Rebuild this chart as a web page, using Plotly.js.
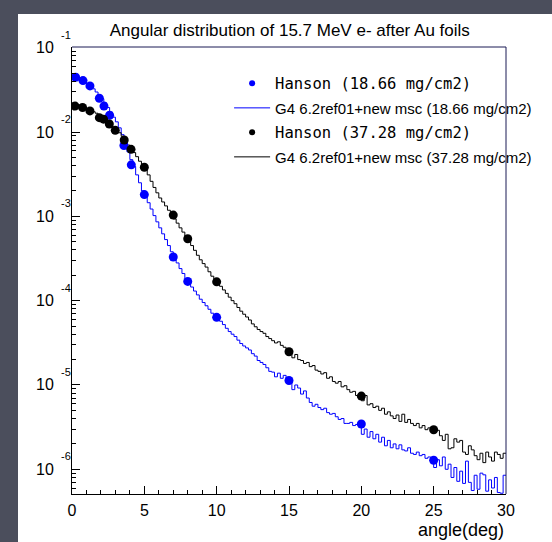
<!DOCTYPE html>
<html><head><meta charset="utf-8">
<script src="https://cdn.plot.ly/plotly-3.0.1.min.js"></script>
<style>
html,body{margin:0;padding:0;background:#4b4e5c;width:552px;height:542px;overflow:hidden}
#chart{position:absolute;left:18px;top:14px;width:534px;height:528px;}
</style></head><body><div id="chart"></div>
<script>
// ---- data ----
const titleText = "Angular distribution of 15.7 MeV e- after Au foils";
const xAxisLabel = "angle(deg)";
const nameHanson18 = "Hanson (18.66 mg/cm2)";
const nameG4_18 = "G4 6.2ref01+new msc (18.66 mg/cm2)";
const nameHanson37 = "Hanson (37.28 mg/cm2)";
const nameG4_37 = "G4 6.2ref01+new msc (37.28 mg/cm2)";

const xTickVals = [0, 5, 10, 15, 20, 25, 30];
const yDecadeExps = [-1, -2, -3, -4, -5, -6];

// Hanson measurements, 18.66 mg/cm2
const hanson18Angle = [0.25, 0.76, 1.24, 1.89, 2.21, 2.6, 3.59, 4.1, 5.0, 7.0, 8.0, 10.0, 15.0, 20.0, 25.0];
const hanson18Value = [0.0446, 0.0407, 0.0352, 0.0251, 0.0203, 0.0158, 0.00692, 0.00408, 0.00181, 3.29e-4, 1.69e-4, 6.34e-5, 1.13e-5, 3.44e-6, 1.28e-6];

// Hanson measurements, 37.28 mg/cm2
const hanson37Angle = [0.21, 0.73, 1.24, 1.89, 2.18, 2.58, 2.99, 3.61, 4.08, 5.0, 7.0, 8.0, 10.0, 15.0, 20.0, 25.0];
const hanson37Value = [0.0203, 0.0195, 0.0178, 0.0148, 0.0142, 0.01245, 0.01047, 0.00803, 0.00623, 0.00382, 1.035e-3, 5.42e-4, 1.67e-4, 2.48e-5, 7.38e-6, 2.94e-6];

// G4 histograms: 150 bins over 0..30 deg
const histMin = 0, histMax = 30;
const g4Thin = [
0.0458,0.0450,0.0438,0.0420,0.0398,
0.0375,0.0352,0.0325,0.0298,0.0272,
0.0248,0.0222,0.0195,0.0172,0.0150,
0.0132,0.0112,0.0093,0.0074,0.0058,
0.0047,0.0039,0.0031,0.0025,0.0020,
0.00172,0.00145,0.00122,0.00102,0.00086,
0.00073,0.00062,0.00053,0.00045,0.00038,
0.00033,0.00028,0.00024,0.00021,0.000182,
1.62e-4,1.45e-4,1.30e-4,1.17e-4,1.04e-4,
9.5e-5,8.7e-5,7.9e-5,7.1e-5,6.5e-5,
6.2e-5,5.7e-5,5.2e-5,4.7e-5,4.3e-5,
4.0e-5,3.75e-5,3.4e-5,3.1e-5,2.9e-5,
2.75e-5,2.6e-5,2.35e-5,2.2e-5,1.95e-5,
1.85e-5,1.75e-5,1.6e-5,1.45e-5,1.42e-5,
1.25e-5,1.38e-5,1.2e-5,1.3e-5,1.12e-5,
1.08e-5,8.8e-6,1.0e-5,9.2e-6,7.8e-6,
8.5e-6,7.0e-6,6.2e-6,5.6e-6,5.9e-6,
5.4e-6,5.1e-6,5.3e-6,4.7e-6,4.5e-6,
4.6e-6,4.2e-6,3.9e-6,4.0e-6,3.5e-6,
3.5e-6,3.6e-6,3.3e-6,3.4e-6,3.3e-6,
2.6e-6,3.0e-6,2.4e-6,2.8e-6,2.3e-6,
2.6e-6,2.1e-6,2.4e-6,1.9e-6,2.2e-6,
1.8e-6,2.0e-6,1.75e-6,1.95e-6,1.7e-6,
1.65e-6,1.8e-6,1.55e-6,1.5e-6,1.6e-6,
1.45e-6,1.5e-6,1.35e-6,1.4e-6,1.3e-6,
1.05e-6,1.3e-6,1.1e-6,1.4e-6,1.0e-6,
1.15e-6,8.0e-7,1.05e-6,7.2e-7,9.5e-7,
6.8e-7,1.25e-6,7.0e-7,5.6e-7,8.5e-7,
5.8e-7,9.0e-7,8.6e-7,5.5e-7,7.5e-7,
6.0e-7,8.0e-7,5.3e-7,5.2e-7,8.5e-7];
const g4Thick = [
0.0221,0.0215,0.0208,0.0203,0.0198,
0.0190,0.0182,0.0174,0.0167,0.0159,
0.0150,0.0141,0.0131,0.0121,0.0114,
0.0106,0.0098,0.0089,0.0080,0.0070,
0.0064,0.0057,0.0051,0.0045,0.0040,
0.0036,0.0031,0.0026,0.0022,0.0019,
0.00165,0.00148,0.00133,0.00118,0.00106,
0.00093,0.00083,0.00073,0.00065,0.00058,
5.1e-4,4.5e-4,3.95e-4,3.45e-4,3.05e-4,
2.75e-4,2.5e-4,2.2e-4,1.95e-4,1.78e-4,
1.62e-4,1.48e-4,1.34e-4,1.22e-4,1.1e-4,
1.0e-4,9.2e-5,8.3e-5,7.5e-5,6.9e-5,
6.4e-5,5.9e-5,5.3e-5,4.9e-5,4.55e-5,
4.3e-5,4.1e-5,3.75e-5,3.55e-5,3.35e-5,
3.15e-5,3.25e-5,2.95e-5,2.8e-5,2.6e-5,
2.45e-5,2.1e-5,2.3e-5,2.0e-5,1.95e-5,
1.8e-5,1.85e-5,1.65e-5,1.7e-5,1.5e-5,
1.45e-5,1.35e-5,1.4e-5,1.2e-5,1.25e-5,
1.1e-5,1.05e-5,1.1e-5,9.5e-6,9.8e-6,
8.8e-6,8.2e-6,8.4e-6,7.5e-6,7.4e-6,
6.5e-6,7.5e-6,5.8e-6,6.0e-6,5.4e-6,
5.6e-6,5.0e-6,5.3e-6,4.5e-6,4.8e-6,
4.3e-6,4.0e-6,4.4e-6,3.7e-6,4.5e-6,
3.6e-6,3.9e-6,3.5e-6,3.3e-6,3.5e-6,
3.1e-6,3.3e-6,2.95e-6,3.1e-6,2.9e-6,
2.75e-6,2.9e-6,2.5e-6,2.2e-6,2.6e-6,
1.75e-6,1.8e-6,2.3e-6,2.1e-6,2.2e-6,
1.6e-6,1.5e-6,1.9e-6,1.7e-6,1.45e-6,
1.3e-6,1.55e-6,1.2e-6,1.6e-6,1.4e-6,
1.25e-6,1.6e-6,1.5e-6,1.35e-6,1.55e-6];

// ---- build step outlines from the bin contents ----
function stepTrace(vals, color) {
  const n = vals.length, w = (histMax - histMin) / n;
  const xs = [], ys = [];
  for (let i = 0; i < n; i++) { xs.push(+(histMin + i * w).toFixed(4)); ys.push(vals[i]); }
  xs.push(histMax); ys.push(vals[n - 1]);
  return {x: xs, y: ys, type: 'scatter', mode: 'lines', line: {shape: 'hv', color: color, width: 1},
          showlegend: false, hoverinfo: 'skip'};
}

const BLUE = '#0000ff', BLACK = '#000000';
const mono = 'DejaVu Sans Mono';
function monoName(s){ return '<span style="font-family:' + mono + ';font-size:15.5px">' + s + '</span>'; }

const traces = [
  stepTrace(g4Thin, BLUE),
  stepTrace(g4Thick, BLACK),
  {x: hanson18Angle, y: hanson18Value, type: 'scatter', mode: 'markers', marker: {color: BLUE, size: 9}, showlegend: false},
  {x: hanson37Angle, y: hanson37Value, type: 'scatter', mode: 'markers', marker: {color: BLACK, size: 9}, showlegend: false},
  // legend entries
  {x: [null], y: [null], type: 'scatter', mode: 'markers', marker: {color: BLUE, size: 6}, name: monoName(nameHanson18), legendgroup: 'a'},
  {x: [null], y: [null], type: 'scatter', mode: 'lines', line: {color: BLUE, width: 1}, name: nameG4_18, legendgroup: 'b'},
  {x: [null], y: [null], type: 'scatter', mode: 'markers', marker: {color: BLACK, size: 6}, name: monoName(nameHanson37), legendgroup: 'c'},
  {x: [null], y: [null], type: 'scatter', mode: 'lines', line: {color: BLACK, width: 1}, name: nameG4_37, legendgroup: 'd'}
];

// minor log ticks
const minorVals = [];
for (const e of [-7, -6, -5, -4, -3, -2]) for (let m = 2; m <= 9; m++) minorVals.push(m * Math.pow(10, e));

const annotations = [];
for (const e of yDecadeExps) {
  annotations.push({xref: 'paper', x: 0, xanchor: 'right', xshift: -16, yref: 'y', y: e, yanchor: 'middle',
    text: '10', showarrow: false, font: {size: 16, color: '#000'}});
  annotations.push({xref: 'paper', x: 0, xanchor: 'right', xshift: 1, yref: 'y', y: e, yanchor: 'middle', yshift: 13,
    text: String(e), showarrow: false, font: {size: 11, color: '#000'}});
}
annotations.push({xref: 'paper', x: 1, xanchor: 'right', xshift: 0, yref: 'paper', y: 0, yanchor: 'middle', yshift: -36,
  text: xAxisLabel, showarrow: false, font: {size: 18, color: '#000'}});

const layout = {
  width: 534, height: 528,
  margin: {l: 54, r: 46, t: 33, b: 48},
  paper_bgcolor: '#ffffff', plot_bgcolor: '#ffffff',
  font: {family: 'Liberation Sans, Arial, sans-serif', color: '#000'},
  title: {text: titleText, font: {size: 17, color: '#000'}, xref: 'container', x: 0.509, xanchor: 'center',
          yref: 'container', y: 0.97, yanchor: 'middle'},
  xaxis: {range: [histMin, histMax], tickmode: 'array', tickvals: xTickVals, ticks: 'inside', ticklen: 8, tickwidth: 1,
          tickcolor: '#000', showline: true, linecolor: '#000', linewidth: 1, showgrid: false, zeroline: false,
          tickfont: {size: 16, color: '#000'}, ticklabelstandoff: 2,
          minor: {dtick: 1, tick0: 0, ticks: 'inside', ticklen: 4, tickcolor: '#000', showgrid: false}},
  yaxis: {type: 'log', range: [-6.293, -0.992], tickmode: 'array', tickvals: yDecadeExps.map(e => Math.pow(10, e)),
          showticklabels: false, ticks: 'inside', ticklen: 8, tickwidth: 1, tickcolor: '#000',
          showline: true, linecolor: '#000', linewidth: 1, showgrid: false, zeroline: false,
          minor: {tickmode: 'array', tickvals: minorVals, ticks: 'inside', ticklen: 4, tickcolor: '#000', showgrid: false}},
  showlegend: true,
  legend: {x: 0.362, y: 0.955, xanchor: 'left', yanchor: 'top', bgcolor: 'rgba(0,0,0,0)', borderwidth: 0,
           font: {size: 15, color: '#000'}, traceorder: 'grouped', tracegroupgap: 2, itemwidth: 36},
  annotations: annotations,
  shapes: [{type: 'path', xref: 'paper', yref: 'paper', path: 'M0,1 L1,1 L1,0', line: {color: '#1a1a55', width: 1}, layer: 'above'}]
};

Plotly.newPlot('chart', traces, layout, {displayModeBar: false, staticPlot: true});
</script></body></html>
